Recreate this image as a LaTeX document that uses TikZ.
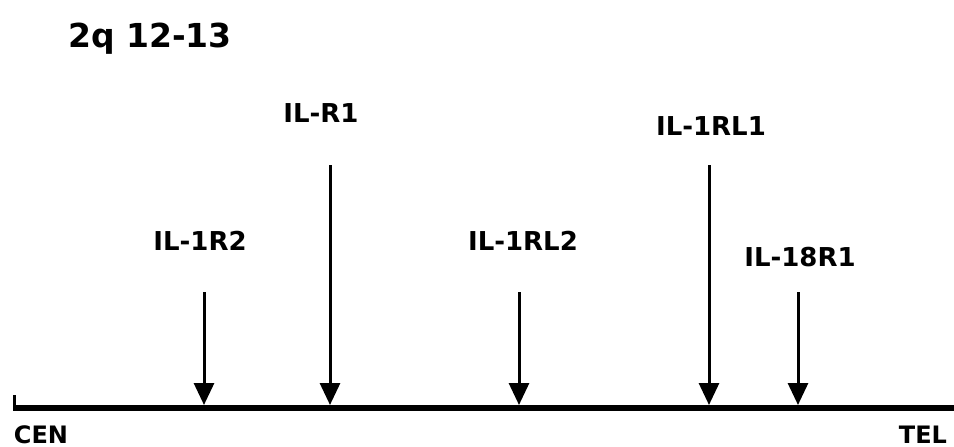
\documentclass[tikz,border=0pt]{standalone}
\usepackage{fontspec}
\setmainfont{DejaVu Sans}
\usetikzlibrary{arrows.meta}
\tikzset{
  lbl/.style={font=\bfseries\fontsize{26}{26}\selectfont, inner sep=0pt, anchor=base},
  endlbl/.style={font=\bfseries\fontsize{24}{24}\selectfont, inner sep=0pt, anchor=base},
  marker/.style={line width=3pt, -{Triangle[length=22pt, width=20pt]}},
  axis/.style={line width=6.5pt},
}
\begin{document}
\begin{tikzpicture}[x=1pt, y=-1pt]
\useasboundingbox (0,0) rectangle (954,447);
% title
\node[lbl, font=\bfseries\fontsize{33}{33}\selectfont] (title) at (150,47) {2q 12-13};
% axis
\coordinate (L) at (13,408);
\coordinate (R) at (954,408);
\draw[axis] (L) -- (R);
\coordinate (tickTop) at (14.5,395);
\coordinate (tickBot) at (14.5,408);
\draw[line width=3pt] (tickTop) -- (tickBot);
\node[endlbl] (cen) at (41,443) {CEN};
\node[endlbl] (tel) at (923,443) {TEL};
% labels
\node[lbl] (r2) at (200,250) {IL-1R2};
\node[lbl] (r1) at (321,122) {IL-R1};
\node[lbl] (rl2) at (523,250) {IL-1RL2};
\node[lbl] (rl1) at (711,135) {IL-1RL1};
\node[lbl] (r18) at (800,266) {IL-18R1};
% arrows
\coordinate (a1t) at (204,292); \coordinate (a1b) at (204,405);
\coordinate (a2t) at (330,165); \coordinate (a2b) at (330,405);
\coordinate (a3t) at (519,292); \coordinate (a3b) at (519,405);
\coordinate (a4t) at (709,165); \coordinate (a4b) at (709,405);
\coordinate (a5t) at (798,292); \coordinate (a5b) at (798,405);
\draw[marker] (a1t) -- (a1b);
\draw[marker] (a2t) -- (a2b);
\draw[marker] (a3t) -- (a3b);
\draw[marker] (a4t) -- (a4b);
\draw[marker] (a5t) -- (a5b);
\end{tikzpicture}
\end{document}
